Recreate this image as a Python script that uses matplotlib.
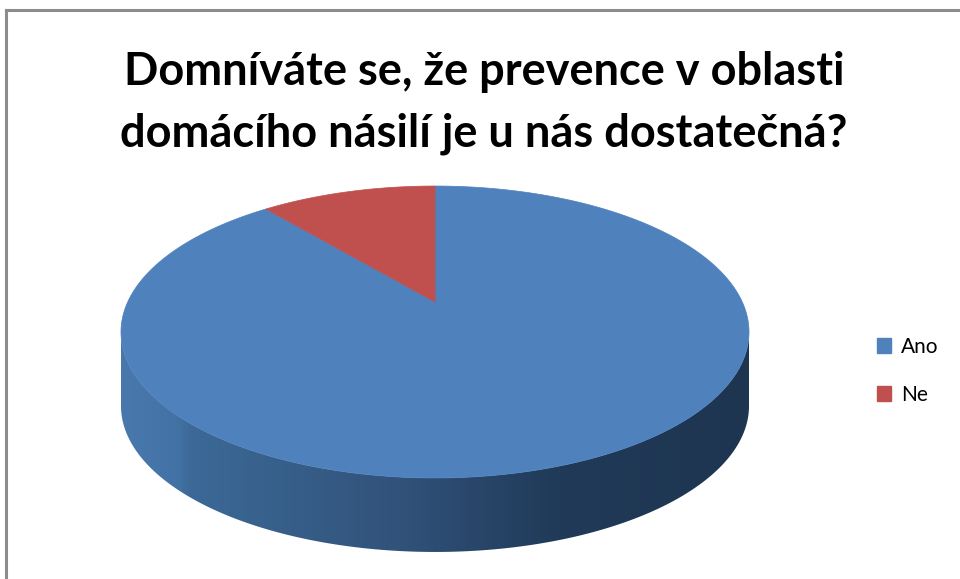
import numpy as np
import matplotlib
matplotlib.use("Agg")
import matplotlib.pyplot as plt
from matplotlib.patches import Polygon, Patch
from matplotlib.lines import Line2D
from matplotlib.colors import LinearSegmentedColormap

# ---- data ----
categories = ["Ano", "Ne"]
values = [89, 11]
colors = ["#4F81BD", "#C0504D"]
title = "Domníváte se, že prevence v oblasti\ndomácího násilí je u nás dostatečná?"

# ---- figure ----
W, H = 960, 579
fig = plt.figure(figsize=(W / 100, H / 100), dpi=100)
ax = fig.add_axes([0, 0, 1, 1])
ax.set_xlim(0, W)
ax.set_ylim(H, 0)
ax.axis("off")

# border (top & left only visible)
ax.add_line(Line2D([6, W], [10, 10], color="#8c8c8c", lw=2.2))
ax.add_line(Line2D([6, 6], [10, H], color="#8c8c8c", lw=2.2))

# ---- 3D pie projection ----
cx, cy = 435.0, 302.0
A, B, k = 307.3, 139.8, 0.2055
depth = 74.0


def proj(theta_deg, r=1.0):
    t = np.radians(theta_deg)
    u = r * np.sin(t)
    v = r * np.cos(t)
    s = 1.0 + k * v
    return cx + A * u / s, cy - B * v / s


# side band (front half between silhouette extremes) with horizontal gradient
t0 = np.degrees(np.arccos(-k))
t1 = 360 - t0
ths = np.linspace(t0, t1, 400)
top_edge = [proj(t) for t in ths]
bot_edge = [(x, y + depth) for x, y in top_edge[::-1]]
side_poly = Polygon(top_edge + bot_edge, closed=True, facecolor="none", edgecolor="none")
ax.add_patch(side_poly)

xl, xr = 110.0, 760.0
stops_x = [110, 175, 190, 400, 560, 760]
stops_c = ["#4A79AE", "#4373A6", "#3C6997", "#31527A", "#203A58", "#1E3550"]
cmap = LinearSegmentedColormap.from_list(
    "side", [((x - xl) / (xr - xl), c) for x, c in zip(stops_x, stops_c)])
grad = np.linspace(0, 1, 512)[None, :]
im = ax.imshow(grad, cmap=cmap, extent=(xl, xr, 560, 320), aspect="auto",
               interpolation="bilinear", zorder=1)
im.set_clip_path(side_poly)

# top face wedges: start at 12 o'clock, clockwise
total = float(sum(values))
start = 0.0
for val, col in zip(values, colors):
    ext = 360.0 * val / total
    th = np.linspace(start, start + ext, max(int(ext * 2), 4))
    pts = [(cx, cy)] + [proj(t) for t in th]
    ax.add_patch(Polygon(pts, closed=True, facecolor=col, edgecolor=col,
                         lw=0.5, zorder=2))
    start += ext

# ---- title ----
ax.text(484, 103, title, ha="center", va="center", fontsize=32.5,
        fontweight="bold", family=["Lato", "DejaVu Sans"],
        linespacing=1.55, color="black")

# ---- legend ----
handles = [Patch(facecolor=c, edgecolor=c) for c in colors]
leg = ax.legend(handles, categories, loc="center left",
                bbox_to_anchor=(858 / W, 1 - 371 / H), frameon=False,
                handlelength=0.7, handleheight=0.7,
                handletextpad=0.45, labelspacing=1.35,
                prop={"family": ["Lato", "DejaVu Sans"], "size": 15})

fig.savefig("out.png", dpi=100, facecolor="white")
